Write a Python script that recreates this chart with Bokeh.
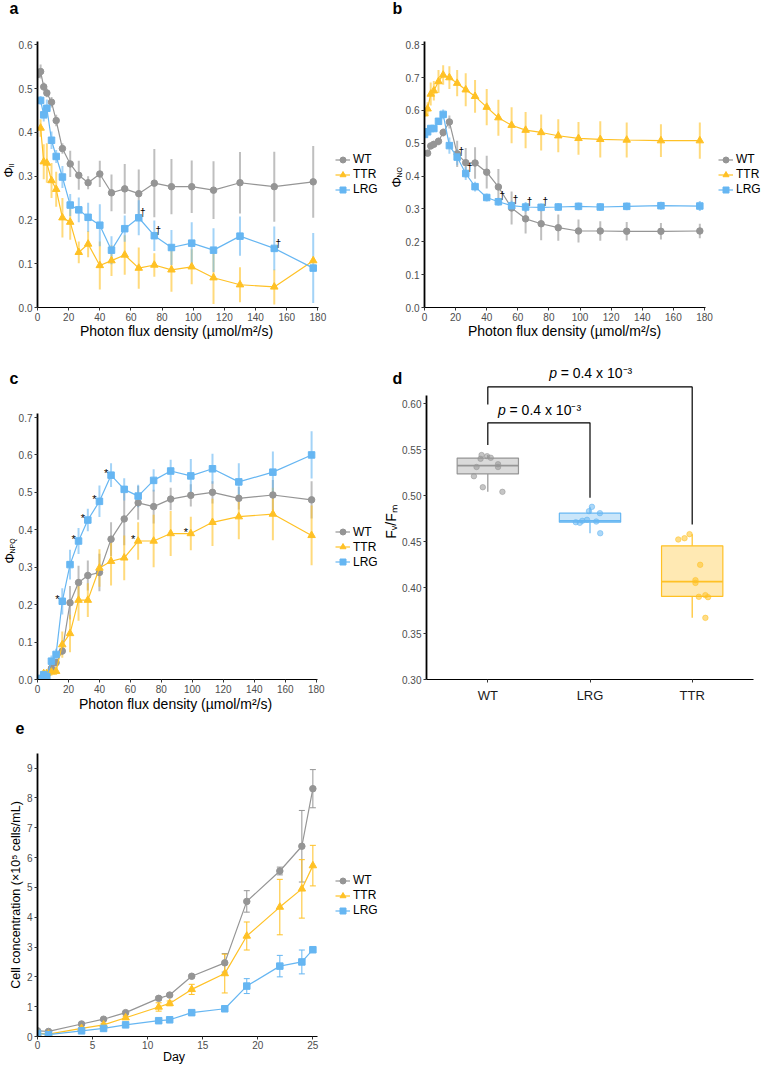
import math
import numpy as np
from bokeh.plotting import figure
from bokeh.layouts import column, row
from bokeh.models import (Range1d, FixedTicker, Legend, LegendItem, Label, ColumnDataSource,
                          Whisker, TeeHead, PrintfTickFormatter)
from bokeh.core.properties import value
from bokeh.embed import file_html
from bokeh.resources import INLINE

nan = float("nan")

# ---------------- data ----------------
series_names = ["WT", "TTR", "LRG"]
pfd = [0, 2, 4, 6, 9, 12, 16, 21, 26.5, 32.5, 40, 47.5, 56, 65, 75, 86, 99, 113, 130, 152, 177]
pfd_ticks = [0, 20, 40, 60, 80, 100, 120, 140, 160, 180]

# panel a : Phi II
wt_a = [0.532, 0.539, 0.504, 0.490, 0.469, 0.427, 0.363, 0.328, 0.302, 0.285, 0.305, 0.262, 0.271, 0.260, 0.284, 0.276, 0.276, 0.268, 0.285, 0.276, 0.287]
wt_a_err = [0.012, 0.016, 0.010, 0.010, 0.012, 0.013, 0.012, 0.030, 0.033, 0.015, 0.030, 0.042, 0.057, 0.055, 0.078, 0.063, 0.060, 0.066, 0.070, 0.080, 0.082]
ttr_a = [nan, 0.410, 0.333, 0.330, 0.290, 0.270, 0.205, 0.195, 0.126, 0.145, 0.096, 0.107, 0.120, 0.090, 0.097, 0.086, 0.093, 0.068, 0.052, 0.047, 0.107]
ttr_a_err = [nan, 0.020, 0.040, 0.045, 0.040, 0.040, 0.045, 0.040, 0.025, 0.030, 0.055, 0.035, 0.045, 0.047, 0.027, 0.050, 0.040, 0.060, 0.040, 0.040, 0.005]
lrg_a = [nan, 0.473, 0.440, 0.455, 0.382, 0.345, 0.298, 0.234, 0.223, 0.206, 0.188, 0.131, 0.180, 0.205, 0.164, 0.137, 0.147, 0.131, 0.163, 0.135, 0.090]
lrg_a_err = [nan, 0.010, 0.015, 0.020, 0.020, 0.015, 0.025, 0.025, 0.028, 0.033, 0.048, 0.032, 0.030, 0.040, 0.035, 0.040, 0.048, 0.050, 0.045, 0.050, 0.080]
dagger_idx_a = [13, 14, 19]

# panel b : Phi NO
wt_b = [nan, 0.470, 0.492, 0.497, 0.506, 0.533, 0.565, 0.468, 0.441, 0.440, 0.412, 0.367, 0.303, 0.270, 0.255, 0.243, 0.233, 0.233, 0.232, 0.232, 0.233]
wt_b_err = [nan, 0.008, 0.010, 0.008, 0.012, 0.012, 0.020, 0.040, 0.045, 0.048, 0.050, 0.055, 0.050, 0.045, 0.050, 0.040, 0.035, 0.030, 0.028, 0.025, 0.022]
ttr_b = [0.590, 0.605, 0.650, 0.660, 0.688, 0.708, 0.700, 0.683, 0.663, 0.643, 0.610, 0.578, 0.555, 0.540, 0.533, 0.523, 0.515, 0.512, 0.510, 0.508, 0.508]
ttr_b_err = [0.010, 0.020, 0.035, 0.030, 0.035, 0.030, 0.035, 0.040, 0.050, 0.050, 0.055, 0.055, 0.055, 0.055, 0.055, 0.050, 0.050, 0.055, 0.053, 0.050, 0.055]
lrg_b = [0.527, 0.535, 0.545, 0.545, 0.567, 0.588, 0.493, 0.458, 0.408, 0.368, 0.335, 0.322, 0.310, 0.306, 0.305, 0.306, 0.308, 0.306, 0.308, 0.310, 0.309]
lrg_b_err = [0.008, 0.010, 0.010, 0.010, 0.010, 0.015, 0.025, 0.025, 0.020, 0.015, 0.012, 0.012, 0.015, 0.015, 0.012, 0.012, 0.012, 0.012, 0.012, 0.012, 0.015]
dagger_idx_b = [7, 8, 11, 12, 13, 14]

# panel c : Phi NPQ
wt_c = [nan, 0.002, 0.007, 0.012, 0.030, 0.045, 0.076, 0.205, 0.259, 0.278, 0.286, 0.375, 0.429, 0.472, 0.462, 0.482, 0.492, 0.500, 0.484, 0.493, 0.480]
wt_c_err = [nan, 0.004, 0.006, 0.015, 0.010, 0.010, 0.010, 0.045, 0.045, 0.040, 0.050, 0.045, 0.070, 0.045, 0.045, 0.030, 0.030, 0.030, 0.030, 0.040, 0.050]
ttr_c = [nan, 0.002, 0.016, 0.016, 0.020, 0.022, 0.093, 0.123, 0.212, 0.212, 0.298, 0.316, 0.325, 0.370, 0.370, 0.390, 0.390, 0.420, 0.435, 0.442, 0.385]
ttr_c_err = [nan, 0.005, 0.008, 0.010, 0.010, 0.010, 0.035, 0.050, 0.055, 0.045, 0.050, 0.065, 0.060, 0.050, 0.070, 0.060, 0.045, 0.063, 0.060, 0.070, 0.080]
lrg_c = [nan, 0.003, 0.013, 0.007, 0.049, 0.067, 0.209, 0.307, 0.370, 0.426, 0.476, 0.546, 0.508, 0.490, 0.532, 0.557, 0.544, 0.563, 0.528, 0.554, 0.600]
lrg_c_err = [nan, 0.005, 0.008, 0.010, 0.015, 0.015, 0.035, 0.040, 0.035, 0.030, 0.042, 0.032, 0.030, 0.030, 0.030, 0.030, 0.045, 0.040, 0.050, 0.055, 0.063]
star_idx_c_lrg = [6, 8, 9, 10, 11]
star_idx_c_ttr = [13, 16]

# panel d : Fv/Fm
groups = ["WT", "LRG", "TTR"]
wt_fvfm = [0.544, 0.5427, 0.541, 0.5399, 0.534, 0.531, 0.531, 0.521, 0.509, 0.504]
wt_jit = [0.939, 0.993, 1.029, 0.929, 1.10, 1.10, 0.89, 0.864, 0.951, 1.143]
lrg_fvfm = [0.4877, 0.483, 0.4808, 0.4736, 0.4725, 0.471, 0.4703, 0.4717, 0.459]
lrg_jit = [2.019, 1.99, 2.097, 1.971, 1.925, 1.861, 1.90, 2.061, 2.10]
ttr_fvfm = [0.4522, 0.4536, 0.458, 0.4247, 0.408, 0.405, 0.3899, 0.3917, 0.3895, 0.367]
ttr_jit = [2.864, 2.925, 2.974, 3.078, 3.032, 3.032, 3.065, 3.129, 3.155, 3.129]
fv_ticks = [0.30, 0.35, 0.40, 0.45, 0.50, 0.55, 0.60]
# (group 1, group 2, left leg bottom, bracket top, right leg bottom, p-label centre)
brackets = [("WT", "LRG", 0.555, 0.579, 0.4975, 0.5932), ("WT", "TTR", 0.599, 0.618, 0.4685, 0.6329)]
p_text = ["p", "= 0.4 x 10\u207b\u00b3"]

# panel e : growth
days = [0, 1, 4, 6, 8, 11, 12, 14, 17, 19, 22, 24, 25]
wt_e = [0.19, 0.17, 0.42, 0.58, 0.80, 1.28, 1.39, 2.02, 2.47, 4.53, 5.55, 6.38, 8.31]
wt_e_err = [0.03, 0.03, 0.03, 0.03, 0.03, 0.06, 0.05, 0.05, 0.31, 0.36, 0.13, 1.20, 0.64]
ttr_e = [0.11, 0.08, 0.27, 0.39, 0.63, 0.99, 1.11, 1.58, 2.11, 3.37, 4.34, 4.95, 5.73]
ttr_e_err = [0.02, 0.02, 0.04, 0.05, 0.05, 0.14, 0.08, 0.17, 0.65, 0.47, 0.93, 0.98, 0.68]
lrg_e = [0.10, 0.06, 0.19, 0.27, 0.39, 0.53, 0.56, 0.80, 0.93, 1.69, 2.36, 2.50, 2.91]
lrg_e_err = [0.02, 0.02, 0.03, 0.03, 0.03, 0.04, 0.04, 0.08, 0.06, 0.25, 0.36, 0.40, 0.07]
day_ticks = [0, 5, 10, 15, 20, 25]
cell_ticks = [0, 1, 2, 3, 4, 5, 6, 7, 8, 9]

# ---------------- style ----------------
FONT = "Liberation Sans"
COL = {"WT": "#959595", "TTR": "#FFC125", "LRG": "#66B6F2"}
MARK = {"WT": "circle", "TTR": "triangle", "LRG": "square"}
MSIZE = {"WT": 6.5, "TTR": 7.5, "LRG": 6.5}


def make_fig(w, h, left, right, top, bottom, xr, yr):
    p = figure(width=w, height=h, x_range=Range1d(*xr), y_range=Range1d(*yr),
               output_backend="svg", toolbar_location=None, title=None,
               min_border_left=left, min_border_right=right,
               min_border_top=top, min_border_bottom=bottom)
    p.grid.visible = False
    p.outline_line_color = None
    p.background_fill_color = "white"
    p.border_fill_color = "white"
    for ax in (p.xaxis[0], p.yaxis[0]):
        ax.axis_line_color = "black"
        ax.major_tick_line_color = "#333333"
        ax.major_tick_in = 0
        ax.major_tick_out = 3
        ax.minor_tick_line_color = None
        ax.major_label_text_font = FONT
        ax.major_label_text_font_size = "10px"
        ax.major_label_text_color = "#4d4d4d"
        ax.major_label_standoff = 2
        ax.axis_label_text_font = FONT
        ax.axis_label_text_font_style = "normal"
        ax.axis_label_text_color = "black"
    p.xaxis[0].axis_line_width = 1.2
    p.yaxis[0].axis_line_width = 1.8
    return p


def canvas_label(p, place, x, y, text, size="14px", angle=0.0, align="center", style="normal"):
    # x, y: canvas pixels of the text's middle line
    p.add_layout(Label(x=x, y=y, x_units="canvas", y_units="canvas", text=text, angle=angle,
                       text_align=align, text_baseline="middle", text_font=FONT,
                       text_font_size=size, text_font_style=style, text_color="black"), place)


def rot_piece(p, place, x, y, text, size):
    canvas_label(p, place, x, y, text, size=size, angle=math.pi / 2, align="left")


def add_series(p, xs, data, errbars="segment"):
    srcs = []
    for name in series_names:
        vals, errs = data[name]
        lo = [v - e for v, e in zip(vals, errs)]
        hi = [v + e for v, e in zip(vals, errs)]
        src = ColumnDataSource(dict(x=xs, y=vals, lo=lo, hi=hi))
        c = COL[name]
        if errbars == "segment":
            p.segment(x0="x", y0="lo", x1="x", y1="hi", source=src, line_color=c,
                      line_width=2, line_alpha=0.6)
        else:
            p.add_layout(Whisker(source=src, base="x", upper="hi", lower="lo", line_color=c,
                                 line_width=1,
                                 upper_head=TeeHead(size=6, line_color=c, line_width=1),
                                 lower_head=TeeHead(size=6, line_color=c, line_width=1)))
        srcs.append((name, src))
    legend_items = []
    for name, src in srcs:
        c = COL[name]
        lr = p.line("x", "y", source=src, line_color=c, line_width=1.2)
        sr = p.scatter("x", "y", source=src, marker=MARK[name], size=MSIZE[name],
                       fill_color=c, line_color=c)
        legend_items.append(LegendItem(label=name, renderers=[lr, sr]))
    return legend_items


def add_legend(p, items, lx, ly):
    lg = Legend(items=items, location=(lx, ly), padding=0, margin=0, spacing=0,
                glyph_width=15, glyph_height=15, label_height=15, label_standoff=3,
                label_text_font=FONT, label_text_font_size="12px", label_text_color="black",
                border_line_color=None, background_fill_alpha=0)
    p.add_layout(lg, "center")


def marks(p, xs, ys, idx, sym, dx, dy, size="10px"):
    src = ColumnDataSource(dict(x=[xs[i] for i in idx], y=[ys[i] for i in idx],
                                t=[sym] * len(idx)))
    p.text(x="x", y="y", text="t", source=src, x_offset=dx, y_offset=dy,
           text_font=value(FONT), text_font_size=size, text_color="black",
           text_align="center", text_baseline="middle")


PFD_LABEL = "Photon flux density (\u00b5mol/m\u00b2/s)"


def pfd_axes(p, yticks, ytop):
    p.xaxis.ticker = FixedTicker(ticks=pfd_ticks)
    p.xaxis.bounds = (0, 180.6)
    p.yaxis.ticker = FixedTicker(ticks=yticks)
    p.yaxis.bounds = (0, ytop)
    p.yaxis.formatter = PrintfTickFormatter(format="%.1f")


# ---------------- panel a ----------------
pa = make_fig(380, 342, 35, 0, 41, 35, (0, 220.2), (0, 0.6076))
pfd_axes(pa, [0, 0.1, 0.2, 0.3, 0.4, 0.5, 0.6], 0.6076)
items = add_series(pa, pfd, {"WT": (wt_a, wt_a_err), "TTR": (ttr_a, ttr_a_err), "LRG": (lrg_a, lrg_a_err)})
add_legend(pa, items, 298, 110.5)
marks(pa, pfd, lrg_a, dagger_idx_a, "\u2020", 4, -5)
canvas_label(pa, "above", 9, 8, "a", size="16px", align="left", style="bold")
rot_piece(pa, "left", 8, 177, "\u03a6", "13px")
rot_piece(pa, "above", 10.5, 167, "II", "7px")
canvas_label(pa, "below", 176, 330, PFD_LABEL, size="14px")

# ---------------- panel b ----------------
pb = make_fig(382, 342, 44, 0, 41, 35, (0, 217.3), (0, 0.81))
pfd_axes(pb, [0, 0.1, 0.2, 0.3, 0.4, 0.5, 0.6, 0.7, 0.8], 0.81)
items = add_series(pb, pfd, {"WT": (wt_b, wt_b_err), "TTR": (ttr_b, ttr_b_err), "LRG": (lrg_b, lrg_b_err)})
add_legend(pb, items, 294, 110.5)
marks(pb, pfd, lrg_b, dagger_idx_b, "\u2020", 4, -6)
canvas_label(pb, "above", 12, 8, "b", size="16px", align="left", style="bold")
rot_piece(pb, "left", 16, 187, "\u03a6", "13px")
rot_piece(pb, "above", 18.5, 177, "NO", "7px")
canvas_label(pb, "below", 184, 330, PFD_LABEL, size="14px")

# ---------------- panel c ----------------
pc = make_fig(380, 370, 35, 0, 71, 33, (0, 221.5), (0, 0.7107))
pfd_axes(pc, [0, 0.1, 0.2, 0.3, 0.4, 0.5, 0.6, 0.7], 0.7107)
items = add_series(pc, pfd, {"WT": (wt_c, wt_c_err), "TTR": (ttr_c, ttr_c_err), "LRG": (lrg_c, lrg_c_err)})
add_legend(pc, items, 298, 110)
marks(pc, pfd, lrg_c, star_idx_c_lrg, "*", -5, -2, size="11px")
marks(pc, pfd, ttr_c, star_idx_c_ttr, "*", -5, -2, size="11px")
canvas_label(pc, "above", 9, 36, "c", size="16px", align="left", style="bold")
rot_piece(pc, "left", 9, 221, "\u03a6", "13px")
rot_piece(pc, "above", 11.5, 211, "NPQ", "7px")
canvas_label(pc, "below", 175, 361, PFD_LABEL, size="14px")

# ---------------- panel d ----------------
pd = make_fig(382, 370, 44, 0, 21, 33, (0.4, 3.688), (0.30, 0.6435))
pos = {g: i + 1 for i, g in enumerate(groups)}
pd.xaxis.ticker = FixedTicker(ticks=[pos[g] for g in groups])
pd.xaxis.major_label_overrides = {pos[g]: g for g in groups}
pd.xaxis.major_label_text_font_size = "13px"
pd.xaxis.major_label_text_color = "#1a1a1a"
pd.xaxis.major_label_standoff = 5
pd.xaxis.bounds = (0.4, 3.6)
pd.yaxis.ticker = FixedTicker(ticks=fv_ticks)
pd.yaxis.formatter = PrintfTickFormatter(format="%.2f")
pd.yaxis.bounds = (0.30, 0.6087)
pd.yaxis.axis_label = "F\u1d65/F\u2098"
pd.yaxis.axis_label_text_font_size = "14px"
pd.yaxis.axis_label_standoff = 0
grp_data = {"WT": (wt_fvfm, wt_jit), "LRG": (lrg_fvfm, lrg_jit), "TTR": (ttr_fvfm, ttr_jit)}
for g in groups:
    vals, jit = grp_data[g]
    arr = np.array(vals)
    q1, med, q3 = np.percentile(arr, [25, 50, 75])
    iqr = q3 - q1
    wlo = arr[arr >= q1 - 1.5 * iqr].min()
    whi = arr[arr <= q3 + 1.5 * iqr].max()
    c = COL[g]
    x0 = pos[g]
    pd.segment(x0=[x0, x0], y0=[q3, q1], x1=[x0, x0], y1=[whi, wlo], line_color=c, line_width=1.2)
    pd.vbar(x=[x0], width=0.6, bottom=[q1], top=[q3], fill_color=c, fill_alpha=0.35,
            line_color=c, line_width=1.2)
    pd.segment(x0=[x0 - 0.3], y0=[med], x1=[x0 + 0.3], y1=[med], line_color=c, line_width=1.8)
    pd.scatter(x=jit, y=vals, size=5.5, fill_color=c, line_color=c, fill_alpha=0.55, line_alpha=0.55)
for g1, g2, ylo1, ytop, ylo2, ylab in brackets:
    pd.line(x=[pos[g1], pos[g1], pos[g2], pos[g2]], y=[ylo1, ytop, ytop, ylo2],
            line_color="black", line_width=1.2)
    xs = (pos[g1] + pos[g2]) / 2.0 - 0.4
    pd.text(x=[xs], y=[ylab], text=[p_text[0]], text_font=value(FONT),
            text_font_style="italic", text_font_size="14px", text_align="left",
            text_baseline="middle", text_color="black")
    pd.text(x=[xs], y=[ylab], text=[p_text[1]], x_offset=11.5, text_font=value(FONT),
            text_font_size="14px", text_align="left", text_baseline="middle",
            text_color="black")
canvas_label(pd, "above", 12, 36, "d", size="16px", align="left", style="bold")

# ---------------- panel e ----------------
pe = make_fig(380, 353, 35, 0, 41, 29, (0, 31.14), (0, 9.49))
pe.xaxis.ticker = FixedTicker(ticks=day_ticks)
pe.xaxis.bounds = (0, 25.45)
pe.yaxis.ticker = FixedTicker(ticks=cell_ticks)
pe.xaxis.major_label_standoff = 1
pe.yaxis.axis_label = "Cell concentration (\u00d710\u2075 cells/mL)"
pe.yaxis.axis_label_text_font_size = "12.5px"
pe.yaxis.axis_label_standoff = 1
items = add_series(pe, days, {"WT": (wt_e, wt_e_err), "TTR": (ttr_e, ttr_e_err), "LRG": (lrg_e, lrg_e_err)},
                   errbars="whisker")
add_legend(pe, items, 298, 118.5)
canvas_label(pe, "above", 15, 15, "e", size="16px", align="left", style="bold")
canvas_label(pe, "below", 173.5, 344.5, "Day", size="12.5px")

layout = row(column(pa, pc, pe), column(pb, row(pd)))
open("out.html", "w").write(file_html(layout, INLINE))
